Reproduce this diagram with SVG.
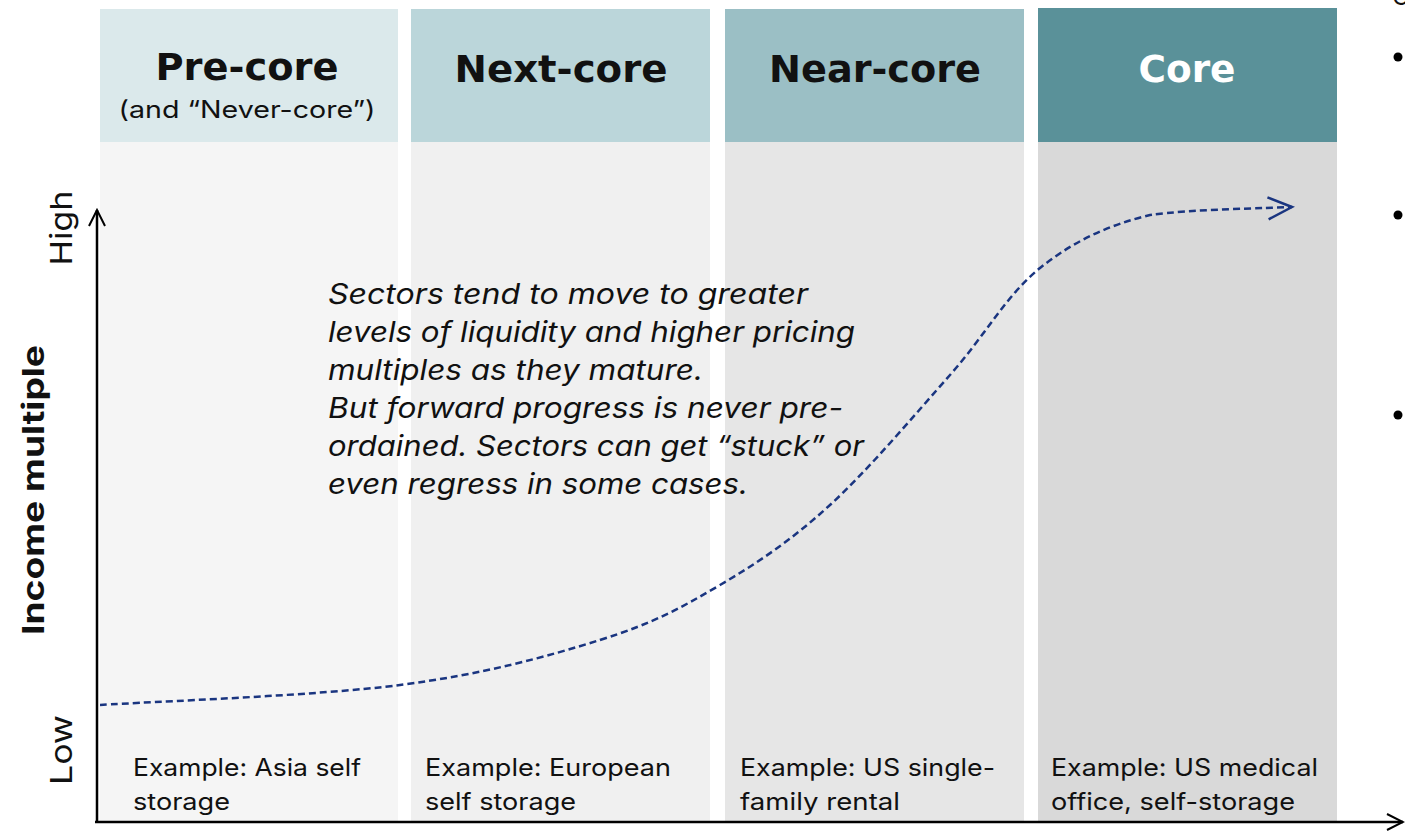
<svg xmlns="http://www.w3.org/2000/svg" width="1405" height="831" viewBox="0 0 1405 831">
<defs>
<style>
.hdr{font-family:"DejaVu Sans","Inter",sans-serif;font-weight:bold;font-size:37px;text-anchor:middle;fill:#111}
.sub{font-family:"Inter","Liberation Sans",sans-serif;font-size:24px;text-anchor:middle;fill:#111}
.ex{font-family:"Inter","Liberation Sans",sans-serif;font-size:24px;fill:#111}
.note{font-family:"Inter","Liberation Sans",sans-serif;font-style:italic;font-size:28px;fill:#111}
.ax{font-family:"Inter","Liberation Sans",sans-serif;font-size:30px;fill:#111}
</style>
<marker id="open" viewBox="0 0 20 20" refX="18" refY="10" markerWidth="20" markerHeight="20" markerUnits="userSpaceOnUse" orient="auto">
<path d="M2,2 L18,10 L2,18" fill="none" stroke="#000" stroke-width="2"/>
</marker>
<marker id="openb" viewBox="0 0 30 30" refX="27" refY="15" markerWidth="30" markerHeight="30" markerUnits="userSpaceOnUse" orient="auto">
<path d="M3,4 L27,15 L3,26" fill="none" stroke="#1a3580" stroke-width="2.5"/>
</marker>
</defs>
<rect width="1405" height="831" fill="#fff"/>
<g id="col-precore">
<rect x="100" y="142" width="298" height="680" fill="#f5f5f5"/>
<rect x="100" y="9" width="298" height="133" fill="#dbe9eb"/>
<text class="hdr" x="247" y="80" textLength="183" lengthAdjust="spacingAndGlyphs">Pre-core</text>
<text class="sub" x="247" y="118" textLength="257" lengthAdjust="spacingAndGlyphs">(and “Never-core”)</text>
<text class="ex" x="133" y="776" textLength="228" lengthAdjust="spacingAndGlyphs">Example: Asia self</text>
<text class="ex" x="133" y="810" textLength="97" lengthAdjust="spacingAndGlyphs">storage</text>
</g>
<g id="col-nextcore">
<rect x="411" y="142" width="299" height="680" fill="#f0f0f0"/>
<rect x="411" y="9" width="299" height="133" fill="#bbd6da"/>
<text class="hdr" x="561" y="82" textLength="213" lengthAdjust="spacingAndGlyphs">Next-core</text>
<text class="ex" x="425" y="776" textLength="246" lengthAdjust="spacingAndGlyphs">Example: European</text>
<text class="ex" x="425" y="810" textLength="151" lengthAdjust="spacingAndGlyphs">self storage</text>
</g>
<g id="col-nearcore">
<rect x="725" y="142" width="299" height="680" fill="#e6e6e6"/>
<rect x="725" y="9" width="299" height="133" fill="#9bbfc5"/>
<text class="hdr" x="875" y="82" textLength="212" lengthAdjust="spacingAndGlyphs">Near-core</text>
<text class="ex" x="740" y="776" textLength="255" lengthAdjust="spacingAndGlyphs">Example: US single-</text>
<text class="ex" x="740" y="810" textLength="160" lengthAdjust="spacingAndGlyphs">family rental</text>
</g>
<g id="col-core">
<rect x="1038" y="142" width="299" height="680" fill="#d9d9d9"/>
<rect x="1038" y="8" width="299" height="134" fill="#5a9199"/>
<text class="hdr" x="1187" y="82" style="fill:#fff" textLength="97" lengthAdjust="spacingAndGlyphs">Core</text>
<text class="ex" x="1051" y="776" textLength="267" lengthAdjust="spacingAndGlyphs">Example: US medical</text>
<text class="ex" x="1051" y="810" textLength="244" lengthAdjust="spacingAndGlyphs">office, self-storage</text>
</g>
<g id="axes">
<line x1="97" y1="822" x2="97" y2="210" stroke="#000" stroke-width="2.5" marker-end="url(#open)"/>
<line x1="95" y1="822" x2="1403" y2="822" stroke="#000" stroke-width="2.5" marker-end="url(#open)"/>
<text class="ax" transform="translate(44,490) rotate(-90)" text-anchor="middle" font-weight="bold" textLength="290" lengthAdjust="spacingAndGlyphs">Income multiple</text>
<text class="ax" transform="translate(72,228) rotate(-90)" text-anchor="middle" textLength="75" lengthAdjust="spacingAndGlyphs">High</text>
<text class="ax" transform="translate(72,750) rotate(-90)" text-anchor="middle" textLength="70" lengthAdjust="spacingAndGlyphs">Low</text>
</g>
<g id="connectors">
<path d="M100,705 C150,701.7 316.7,695.8 400,685 C483.3,674.2 546.7,656.7 600,640 C653.3,623.3 681.7,607.5 720,585 C758.3,562.5 791.7,540 830,505 C868.3,470 915,414.5 950,375 C985,335.5 1006.7,294.7 1040,268 C1073.3,241.3 1108,225.2 1150,215 C1192,209 1268.3,208.3 1292,207" fill="none" stroke="#1a3580" stroke-width="2.5" stroke-dasharray="7,4" marker-end="url(#openb)"/>
</g>
<g id="note">
<text class="note" x="328" y="304" textLength="480" lengthAdjust="spacingAndGlyphs">Sectors tend to move to greater</text>
<text class="note" x="328" y="342" textLength="527" lengthAdjust="spacingAndGlyphs">levels of liquidity and higher pricing</text>
<text class="note" x="328" y="380" textLength="375" lengthAdjust="spacingAndGlyphs">multiples as they mature.</text>
<text class="note" x="328" y="418" textLength="515" lengthAdjust="spacingAndGlyphs">But forward progress is never pre-</text>
<text class="note" x="328" y="456" textLength="536" lengthAdjust="spacingAndGlyphs">ordained. Sectors can get “stuck” or</text>
<text class="note" x="328" y="494" textLength="420" lengthAdjust="spacingAndGlyphs">even regress in some cases.</text>
</g>
<g id="bullets">
<text class="ex" x="1392" y="5">C</text>
<circle cx="1398" cy="57" r="4.5" fill="#000"/>
<circle cx="1398" cy="215" r="4.5" fill="#000"/>
<circle cx="1398" cy="415" r="4.5" fill="#000"/>
</g>
</svg>
